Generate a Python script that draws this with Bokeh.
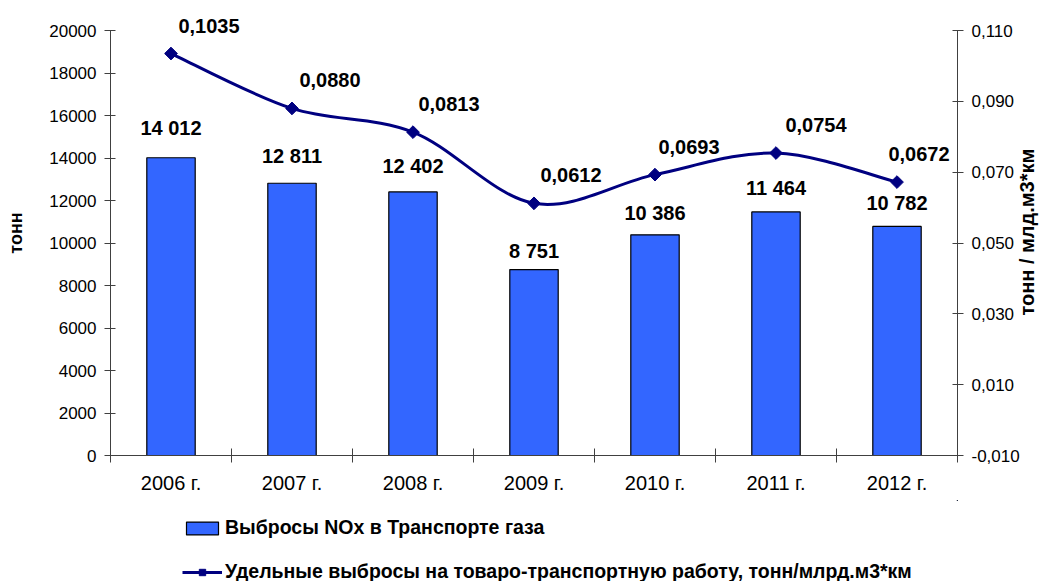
import math
from bokeh.plotting import figure
from bokeh.layouts import column
from bokeh.models import (Range1d, LinearAxis, FixedTicker, CustomJSTickFormatter,
                          Legend, LegendItem, ColumnDataSource)
from bokeh.embed import file_html
from bokeh.resources import INLINE
from bokeh.core.properties import value

# ---------------- data ----------------
years = ["2006 г.", "2007 г.", "2008 г.", "2009 г.", "2010 г.", "2011 г.", "2012 г."]
nox_tonnes = [14012, 12811, 12402, 8751, 10386, 11464, 10782]
specific_emissions = [0.1035, 0.0880, 0.0813, 0.0612, 0.0693, 0.0754, 0.0672]
left_ticks = [0, 2000, 4000, 6000, 8000, 10000, 12000, 14000, 16000, 18000, 20000]
right_ticks = [-0.010, 0.010, 0.030, 0.050, 0.070, 0.090, 0.110]
left_bounds = (0, 20000)
right_bounds = (-0.010, 0.110)

bar_name = "Выбросы NOx в Транспорте газа"
line_name = "Удельные выбросы на товаро-транспортную работу, тонн/млрд.м3*км"
left_title = "тонн"
right_title = "тонн / млд.м3*км"

# ---------------- styles / layout ----------------
FONT = "Liberation Sans"
BAR_COLOR = "#3366FF"
LINE_COLOR = "#000080"
AXIS_COLOR = "#404040"
line_label_dx = [38, 38, 36, 37, 34, 40, 22]
W, H_MAIN, H_LEG = 1051, 500, 81
FRAME_L, FRAME_R, AXIS_TOP, FRAME_B = 110, 958, 30, 455
FRAME_T = 10  # frame extends above the axes so top labels are not clipped
LEGEND_X = 72  # from the (aligned) frame left edge
RIGHT_TITLE_START_PX = 315  # lower end of the bottom-to-top right title
axis_px = FRAME_B - AXIS_TOP
stretch = (FRAME_B - FRAME_T) / axis_px

n = len(years)
xc = [i + 0.5 for i in range(n)]

y_end = left_bounds[0] + (left_bounds[1] - left_bounds[0]) * stretch
r_span = right_bounds[1] - right_bounds[0]
r_end = right_bounds[0] + r_span * stretch
right_title_anchor = right_bounds[1] - (RIGHT_TITLE_START_PX - AXIS_TOP) / axis_px * r_span

p = figure(width=W, height=H_MAIN, output_backend="svg", toolbar_location=None,
           x_range=Range1d(0, n), y_range=Range1d(left_bounds[0], y_end),
           min_border_left=FRAME_L, min_border_right=W - FRAME_R,
           min_border_top=FRAME_T, min_border_bottom=H_MAIN - FRAME_B,
           background_fill_color="white", border_fill_color="white")
p.outline_line_color = None
p.xgrid.visible = False
p.ygrid.visible = False
p.extra_y_ranges = {"right": Range1d(right_bounds[0], r_end)}

# ---- x axis ----
xa = p.xaxis[0]
xa.ticker = FixedTicker(ticks=xc, minor_ticks=list(range(n + 1)))
xa.formatter = CustomJSTickFormatter(args=dict(cats=years),
                                     code="return cats[Math.floor(tick)];")
xa.major_tick_line_color = None
xa.major_tick_in = 0
xa.major_tick_out = 7
xa.minor_tick_in = 7
xa.minor_tick_out = 7
xa.minor_tick_line_color = AXIS_COLOR
xa.axis_line_color = AXIS_COLOR
xa.major_label_text_font = FONT
xa.major_label_text_font_size = "20px"
xa.major_label_text_color = "black"
xa.major_label_standoff = 9

# ---- left axis ----
ya = p.yaxis[0]
ya.bounds = left_bounds
ya.ticker = FixedTicker(ticks=left_ticks)
ya.formatter = CustomJSTickFormatter(code="return tick.toFixed(0);")
ya.major_tick_in = 5
ya.major_tick_out = 6
ya.minor_tick_line_color = None
ya.axis_line_color = AXIS_COLOR
ya.major_tick_line_color = AXIS_COLOR
ya.major_label_text_font = FONT
ya.major_label_text_font_size = "17px"
ya.major_label_text_color = "black"
ya.major_label_standoff = 8
ya.axis_label = left_title
ya.axis_label_text_font = FONT
ya.axis_label_text_font_size = "18px"
ya.axis_label_text_font_style = "bold"
ya.axis_label_text_color = "black"
ya.axis_label_standoff = 20

# ---- right axis (values) ----
ra = LinearAxis(y_range_name="right", ticker=FixedTicker(ticks=right_ticks),
                bounds=right_bounds,
                formatter=CustomJSTickFormatter(code="return tick.toFixed(3).replace('.', ',');"))
ra.major_tick_in = 5
ra.major_tick_out = 6
ra.minor_tick_line_color = None
ra.axis_line_color = AXIS_COLOR
ra.major_tick_line_color = AXIS_COLOR
ra.major_label_text_font = FONT
ra.major_label_text_font_size = "17px"
ra.major_label_text_color = "black"
ra.major_label_standoff = 8
p.add_layout(ra, "right")

# ---- right axis title, written bottom-to-top like the original ----
rt = LinearAxis(y_range_name="right", ticker=FixedTicker(ticks=[right_title_anchor]),
                formatter=CustomJSTickFormatter(args=dict(t=right_title), code="return t;"))
rt.axis_line_color = None
rt.major_tick_line_color = None
rt.minor_tick_line_color = None
rt.major_tick_in = 0
rt.major_tick_out = 0
rt.major_label_orientation = math.pi / 2
rt.major_label_standoff = 4
rt.major_label_text_font = FONT
rt.major_label_text_font_size = "20px"
rt.major_label_text_font_style = "bold"
rt.major_label_text_color = "black"
p.add_layout(rt, "right")

# ---- bars ----
bar_src = ColumnDataSource(dict(
    x=xc, top=nox_tonnes,
    label_y=[v * 1.1 for v in nox_tonnes],
    label=[f"{v:,}".replace(",", " ") for v in nox_tonnes]))
p.vbar(x="x", top="top", width=0.4, source=bar_src, fill_color=BAR_COLOR,
       line_color="black", line_width=1.2)
p.text(x="x", y="label_y", text="label", source=bar_src, text_align="center",
       text_baseline="middle", text_font=value(FONT), text_font_size="20px",
       text_font_style="bold", text_color="black")

# ---- smoothed line (Catmull-Rom Bezier segments through the data points) ----
pts = list(zip(xc, specific_emissions))
bz = dict(x0=[], y0=[], x1=[], y1=[], cx0=[], cy0=[], cx1=[], cy1=[])
for i in range(n - 1):
    P0 = pts[i - 1] if i > 0 else pts[i]
    P1 = pts[i]
    P2 = pts[i + 1]
    P3 = pts[i + 2] if i + 2 < n else pts[i + 1]
    bz["x0"].append(P1[0]); bz["y0"].append(P1[1])
    bz["x1"].append(P2[0]); bz["y1"].append(P2[1])
    bz["cx0"].append(P1[0] + (P2[0] - P0[0]) / 6); bz["cy0"].append(P1[1] + (P2[1] - P0[1]) / 6)
    bz["cx1"].append(P2[0] - (P3[0] - P1[0]) / 6); bz["cy1"].append(P2[1] - (P3[1] - P1[1]) / 6)
p.bezier(x0="x0", y0="y0", x1="x1", y1="y1", cx0="cx0", cy0="cy0", cx1="cx1", cy1="cy1",
         source=ColumnDataSource(bz), y_range_name="right", line_color=LINE_COLOR,
         line_width=3)

line_src = ColumnDataSource(dict(
    x=xc, y=specific_emissions, dx=line_label_dx,
    label=[f"{v:.4f}".replace(".", ",") for v in specific_emissions]))
p.scatter(x="x", y="y", source=line_src, marker="square", angle=math.pi / 4,
          size=9, fill_color=LINE_COLOR, line_color=LINE_COLOR, y_range_name="right")
p.text(x="x", y="y", text="label", source=line_src, x_offset="dx", y_offset=-28,
       y_range_name="right", text_align="center", text_baseline="middle",
       text_font=value(FONT), text_font_size="20px", text_font_style="bold",
       text_color="black")

# ---- legend strip (separate figure directly below the chart) ----
# The strip's ranges lie outside the data, so its renderers only supply legend glyphs.
pl = figure(width=W, height=H_LEG, output_backend="svg", toolbar_location=None,
            x_range=Range1d(-20, -10), y_range=Range1d(-20, -10),
            x_axis_location=None, y_axis_location=None,
            min_border_left=0, min_border_right=0, min_border_top=0, min_border_bottom=0,
            background_fill_color="white", border_fill_color="white")
pl.outline_line_color = None
pl.xgrid.visible = False
pl.ygrid.visible = False
leg_bar = pl.vbar(x="x", top="top", source=bar_src, width=0.4, fill_color=BAR_COLOR,
                  line_color="black", line_width=1.2)
leg_line = pl.line(x="x", y="y", source=line_src, line_color=LINE_COLOR, line_width=3)
leg_mark = pl.scatter(x="x", y="y", source=line_src, marker="square", angle=math.pi / 4,
                      size=10, fill_color=LINE_COLOR, line_color=LINE_COLOR)
legend = Legend(items=[LegendItem(label=bar_name, renderers=[leg_bar]),
                       LegendItem(label=line_name, renderers=[leg_line, leg_mark])],
                location=(LEGEND_X, -2), orientation="vertical",
                glyph_width=40, glyph_height=16, label_height=22, spacing=21,
                label_standoff=3, padding=0, margin=0,
                border_line_color=None, background_fill_alpha=0,
                label_text_font=FONT, label_text_font_size="19.5px",
                label_text_font_style="bold", label_text_color="black")
pl.add_layout(legend, "center")

layout = column(p, pl, spacing=0)
open("out.html", "w").write(file_html(layout, INLINE))
